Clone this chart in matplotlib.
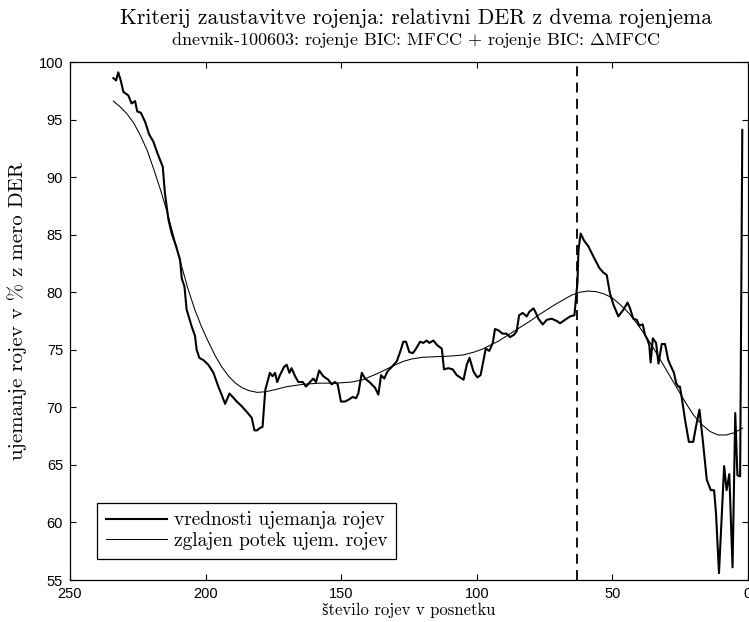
import matplotlib
matplotlib.use("Agg")
import matplotlib.pyplot as plt

plt.rcParams['mathtext.fontset'] = 'cm'
SERIF = ['cmr10', 'Liberation Serif']
SANS = ['Liberation Sans']

# jagged series: "vrednosti ujemanja rojev"
x_raw = [234, 233, 232.2, 231.3, 230.3, 228.5, 227.3, 226, 225.2, 223.9, 222.3, 220.8,
         219.3, 217.8, 215.8, 215, 213.7, 212.5, 210.9, 209.4, 208.8, 207.8, 207, 205.1,
         203.9, 203.3, 202.3, 200.8, 199, 197.1, 195.3, 194.1, 192.8, 191.2, 190, 188.5,
         186.7, 184.8, 183, 182, 181, 180, 179, 178, 176.3, 175.3, 174.4, 173.6, 172.6,
         171.1, 170.1, 169.1, 168.3, 167, 165.8, 164.2, 163, 161.5, 160.3, 159.3, 158.1,
         156.6, 154.8, 153.5, 152.3, 151.3, 150.1, 148.6, 147, 145.8, 144.5, 143.7, 142.4,
         141.2, 139.6, 137.5, 136.3, 135.3, 134.1, 133, 131.4, 129.5, 128, 127.1, 126.1,
         124.9, 123.6, 122.4, 120.9, 119.7, 118.5, 117.5, 116.0, 114.6, 112.9, 112.1, 110.5,
         108.9, 107.4, 104.9, 103.7, 102.7, 101.2, 99.8, 98.6, 97.6, 96.7, 95.4, 94.1, 93.3,
         92.1, 90.5, 89.0, 87.8, 86.3, 85.3, 84.4, 83.1, 81.6, 80.6, 79.1, 78.2, 77.3, 75.7,
         74.2, 72.4, 70.5, 69.3, 67.5, 65.6, 64, 63.4, 62.9, 62.5, 61.7, 60.5, 58.9, 57.0,
         54.8, 53.3, 52.1, 50.9, 49.6, 47.8, 45.9, 44.4, 43.5, 42.3, 41.0, 40.1, 38.8, 38.0,
         37.1, 36.4, 35.9, 35.1, 33.9, 33.0, 31.8, 30.6, 29.4, 28.1, 27.3, 26.5, 25.7, 25.1,
         24.4, 23.2, 21.8, 20.2, 19.2, 17.9, 16.7, 15.2, 13.7, 12.5, 11.8, 10.7, 8.8, 7.9,
         6.9, 5.7, 4.7, 3.9, 2.9, 2.1]
y_raw = [98.6, 98.4, 99.1, 98.4, 97.4, 97.1, 96.4, 96.6, 95.7, 95.6, 94.8, 93.7,
         93.1, 92.1, 90.9, 88.6, 86.3, 85.1, 84.0, 82.8, 81.2, 80.5, 78.5, 77.0,
         76.2, 75.0, 74.3, 74.1, 73.7, 73.0, 71.8, 71.1, 70.3, 71.2, 70.9, 70.5,
         70.1, 69.6, 69.1, 68.0, 68.0, 68.2, 68.3, 71.5, 73.0, 72.7, 73.0, 72.2, 72.8,
         73.5, 73.7, 73.0, 73.4, 72.7, 72.2, 72.2, 71.8, 72.2, 72.5, 72.2, 73.2,
         72.7, 72.4, 72.0, 72.2, 72.0, 70.5, 70.5, 70.7, 70.9, 70.8, 71.2, 73.0,
         72.5, 72.2, 71.7, 71.1, 72.8, 72.5, 73.1, 73.5, 74.0, 75.0, 75.7, 75.7,
         74.8, 74.7, 75.1, 75.7, 75.6, 75.8, 75.6, 75.8, 75.4, 75.1, 73.3, 73.4,
         73.3, 72.8, 72.4, 73.7, 74.3, 73.1, 72.6, 72.8, 74.0, 75.1, 74.9, 75.6, 76.8,
         76.7, 76.4, 76.4, 76.1, 76.3, 76.6, 78.0, 78.2, 77.9, 78.3, 78.6, 78.2, 77.7, 77.2,
         77.6, 77.7, 77.5, 77.3, 77.6, 77.9, 78.0, 79.6, 80.8, 83.7, 85.1, 84.5, 84.0, 83.1,
         82.1, 81.7, 81.5, 79.9, 78.9, 77.9, 78.5, 79.1, 78.6, 77.7, 77.6, 77.1, 77.2, 76.3,
         75.9, 75.4, 73.9, 76.0, 75.6, 73.8, 75.5, 75.5, 74.1, 73.4, 73.0, 72.1, 71.8, 71.8,
         70.8, 68.9, 67.0, 67.0, 68.3, 69.8, 67.2, 63.7, 62.8, 62.8, 60.8, 55.6, 64.9, 62.8,
         64.2, 56.1, 69.5, 64.1, 64.0, 94.1]

# smooth series: "zglajen potek ujem. rojev"
x_smooth = [234, 231.5, 229, 226.5, 224, 221.5, 219, 216.5, 214, 211.5, 209, 206.5, 204,
            201.5, 199, 196.5, 194, 191.5, 189, 186.5, 184, 181, 178, 175, 170, 164, 158,
            152, 146, 142, 139, 136, 133, 130, 127, 124, 120, 115, 110, 105, 101, 98, 95,
            92, 89, 86, 83, 80, 77, 74, 71, 68, 65, 62, 59, 56, 53, 50, 47, 44, 41, 38,
            35, 32, 29, 26, 23, 20, 17, 14, 11, 8, 5, 2]
y_smooth = [96.6, 96.1, 95.5, 94.7, 93.6, 92.3, 90.6, 88.8, 86.8, 84.6, 82.4, 80.3, 78.5,
            77.0, 75.7, 74.5, 73.5, 72.7, 72.1, 71.7, 71.45, 71.3, 71.35, 71.5, 71.8, 72.0,
            72.1, 72.1, 72.2, 72.4, 72.7, 73.0, 73.35, 73.7, 74.0, 74.2, 74.35, 74.4, 74.45,
            74.55, 74.8, 75.05, 75.4, 75.75, 76.2, 76.65, 77.1, 77.55, 78.05, 78.5, 78.95,
            79.35, 79.75, 80.0, 80.1, 80.05, 79.85, 79.5, 78.9, 78.2, 77.3, 76.3, 75.2,
            74.0, 72.8, 71.6, 70.4, 69.3, 68.5, 67.9, 67.6, 67.6, 67.8, 68.2]

stop_x = 63
x_ticks = [250, 200, 150, 100, 50, 0]
y_ticks = [55, 60, 65, 70, 75, 80, 85, 90, 95, 100]

title = "Kriterij zaustavitve rojenja: relativni DER z dvema rojenjema"
subtitle = r"dnevnik-100603: rojenje BIC: MFCC + rojenje BIC: $\Delta$MFCC"
xlabel = "število rojev v posnetku"
ylabel = "ujemanje rojev v % z mero DER"
labels = ["vrednosti ujemanja rojev", "zglajen potek ujem. rojev"]

fig = plt.figure(figsize=(7.49, 6.22), dpi=100)
ax = fig.add_axes([70/749, 42/622, 678/749, 518/622])

ax.plot(x_raw, y_raw, color='black', lw=1.5, label=labels[0])
ax.plot(x_smooth, y_smooth, color='black', lw=0.75, label=labels[1])
ax.axvline(stop_x, color='black', lw=1.3, linestyle=(0, (5.5, 3.5)))

ax.set_xlim(250, 0)
ax.set_ylim(55, 100)
ax.set_xticks(x_ticks)
ax.set_yticks(y_ticks)
ax.tick_params(direction='in', top=True, right=True, length=4, width=0.8,
               labelsize=10.5, pad=5)
for lab in ax.get_xticklabels() + ax.get_yticklabels():
    lab.set_family(SANS)
for s in ax.spines.values():
    s.set_linewidth(0.9)

ax.set_xlabel(xlabel, family=SERIF, fontsize=12, labelpad=1)
ax.set_ylabel(ylabel, family=SERIF, fontsize=15)
ax.yaxis.set_label_coords(-0.0635, 0.52)

fig.text(416/749, 1 - 18/622, title, family=SERIF, fontsize=15.7, ha='center', va='center')
fig.text(416/749, 1 - 40/622, subtitle, family=SERIF, fontsize=13, ha='center', va='center')

leg = ax.legend(loc='lower left', bbox_to_anchor=(0.0398, 0.0405), borderaxespad=0,
                prop={'family': SERIF, 'size': 14}, fancybox=False, edgecolor='black',
                framealpha=1, handlelength=3.15, borderpad=0.45, labelspacing=0.15,
                handletextpad=0.35)
leg.get_frame().set_linewidth(0.9)

fig.savefig("out.png", dpi=100)
